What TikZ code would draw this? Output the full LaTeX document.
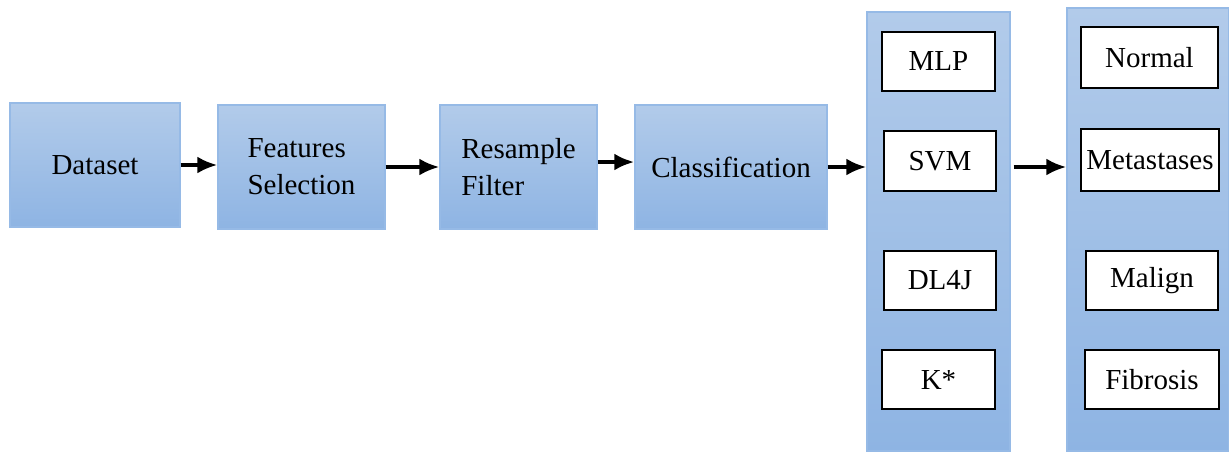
\documentclass[tikz,border=0pt]{standalone}
\usepackage{fontspec}
\setmainfont{Liberation Serif}
\newfontfamily\boxfont{Liberation Serif}
\usetikzlibrary{arrows.meta}
\definecolor{boxtop}{RGB}{178,203,234}
\definecolor{boxbottom}{RGB}{142,180,227}
\definecolor{boxline}{RGB}{150,186,230}
\begin{document}
\begin{tikzpicture}[x=0.02cm, y=-0.02cm,
		stage/.style={rectangle, draw=boxline, line width=0.8pt, top color=boxtop, bottom color=boxbottom, inner sep=0pt, font=\boxfont\fontsize{16.5}{21}\selectfont},
		item/.style={rectangle, draw=black, fill=white, line width=0.7pt, inner sep=0pt, font=\boxfont\fontsize{16.5}{21}\selectfont},
		link/.style={line width=2pt, -{Latex[length=4mm, width=3.4mm]}}]
	\useasboundingbox (0,0) rectangle (1229,451);
	% \draw[help lines] (0,0) grid[step=50] (1229,451);

	\node[stage, minimum width=3.4cm, minimum height=2.48cm] (dataset) at (95,165) {Dataset};
	\node[stage, minimum width=3.34cm, minimum height=2.48cm, align=left] (features) at (301.5,167) {Features\\Selection};
	\node[stage, minimum width=3.14cm, minimum height=2.48cm, align=left] (resample) at (518.5,167) {Resample\\Filter};
	\node[stage, minimum width=3.84cm, minimum height=2.48cm] (classification) at (731,167) {Classification};

	\node[stage, minimum width=2.86cm, minimum height=8.78cm] (methods) at (938.5,231.5) {};
	\node[stage, minimum width=3.24cm, minimum height=8.86cm] (classes) at (1148,229.5) {};

	\node[item, minimum width=2.26cm, minimum height=1.18cm] (mlp) at (938.5,61.5) {MLP};
	\node[item, minimum width=2.24cm, minimum height=1.2cm] (svm) at (940,161) {SVM};
	\node[item, minimum width=2.24cm, minimum height=1.18cm] (dlj) at (940,280.5) {DL4J};
	\node[item, minimum width=2.26cm, minimum height=1.18cm] (kstar) at (938.5,379.5) {K*};

	\node[item, minimum width=2.74cm, minimum height=1.22cm] (normal) at (1149.5,57.5) {Normal};
	\node[item, minimum width=2.76cm, minimum height=1.24cm] (metastases) at (1150,160) {Metastases};
	\node[item, minimum width=2.64cm, minimum height=1.18cm] (malign) at (1152,280.5) {Malign};
	\node[item, minimum width=2.68cm, minimum height=1.18cm] (fibrosis) at (1152,379.5) {Fibrosis};

	\draw[link] (dataset.east) -- (dataset.east -| features.west);
	\draw[link] (features.east) -- (features.east -| resample.west);
	\draw[link, line width=2.6pt] ([yshift=0.1cm]resample.east) -- ([yshift=0.1cm]resample.east -| classification.west);
	\draw[link] (classification.east) -- (classification.east -| methods.west);
	\draw[link, shorten <=0.06cm] (methods.east |- classification.east) -- (classes.west |- classification.east);
\end{tikzpicture}
\end{document}
